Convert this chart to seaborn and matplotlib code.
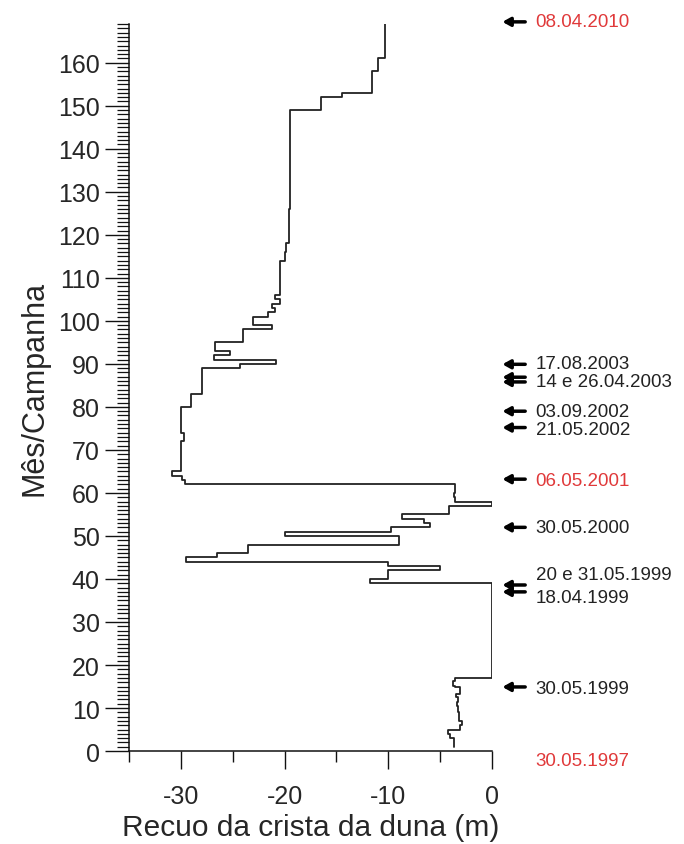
import seaborn as sns
import matplotlib.pyplot as plt
import pandas as pd

# inicio de cada patamar (mês/campanha) e recuo da crista (m)
mes = [1, 3, 4, 5, 6, 7, 9, 10.5, 11.3, 12.5, 13.2, 14.8, 15.2, 16.3, 17,
       39, 40, 42, 43, 44, 45, 46, 48, 50, 51, 52, 53, 54, 55, 57, 58, 59, 60,
       62, 63, 64, 65, 72, 74, 80, 83, 89, 90, 91, 92, 93, 95, 98, 99,
       101, 102, 103, 104, 105, 106, 114, 116, 118, 126, 149, 152, 153,
       158, 161, 169]
recuo = [-3.7, -4.05, -4.2, -3.1, -2.85, -3.15, -3.25, -3.4, -3.25, -3.45, -3.1, -3.55, -3.8, -3.55, 0.0,
         -11.8, -10.0, -5.0, -10.0, -29.5, -26.5, -23.5, -9.0, -20.0, -9.7, -6.0, -6.55, -8.7, -4.1, 0.0, -3.6, -3.7, -3.6,
         -29.6, -29.85, -30.9, -30.0, -29.7, -30.0, -29.0, -28.0, -24.3, -20.8, -26.85, -25.3, -26.75, -24.0, -21.2, -23.0,
         -21.6, -20.9, -21.2, -20.4, -20.9, -20.4, -20.0, -19.9, -19.6, -19.45, -16.5, -14.5, -11.6,
         -10.95, -10.35, -10.35]

# campanhas assinaladas com seta
datas = ['08.04.2010', '17.08.2003', '14 e 26.04.2003', '03.09.2002', '21.05.2002',
         '06.05.2001', '30.05.2000', '20 e 31.05.1999', '18.04.1999', '30.05.1999', '30.05.1997']
datas_y = [169.5, 90.0, 85.8, 79.0, 74.8, 62.9, 52.0, 41.1, 35.8, 14.6, -2.3]
datas_cor = ['#e0393a', '#222222', '#222222', '#222222', '#222222',
             '#e0393a', '#222222', '#222222', '#222222', '#222222', '#e0393a']
setas_y = [169.5, 89.9, 86.9, 85.8, 79.0, 75.2, 63.2, 52.0, 38.6, 37.0, 14.9]

df = pd.DataFrame({'mes': mes, 'recuo': recuo})

sns.set_style('ticks')
plt.rcParams['font.family'] = ['Liberation Sans', 'DejaVu Sans']
plt.rcParams['axes.unicode_minus'] = False

fig = plt.figure(figsize=(6.84, 8.45), dpi=100)
ax = fig.add_axes([0.1886, 0.110, 0.5307, 0.8604])

sns.lineplot(data=df, x='recuo', y='mes', orient='y', estimator=None,
             drawstyle='steps-pre', color='#222222', lw=1.3, ax=ax)

ax.set_xlim(-35, 0)
ax.set_ylim(0, 169)
ax.set_xticks([-30, -20, -10, 0])
ax.set_xticks([-35, -25, -15, -5], minor=True)
ax.set_yticks(range(0, 161, 10))
ax.set_yticks(range(0, 170), minor=True)
ax.tick_params(axis='y', which='major', length=17, width=1, labelsize=18, pad=4, color='#111111')
ax.tick_params(axis='y', which='minor', length=8.5, width=0.9, color='#111111')
ax.tick_params(axis='x', which='major', length=13, width=1, labelsize=18, pad=11, color='#111111')
ax.tick_params(axis='x', which='minor', length=8, width=1, color='#111111')
sns.despine(ax=ax)
for s in ['left', 'bottom']:
    ax.spines[s].set_linewidth(1.1)
    ax.spines[s].set_color('#111111')

ax.set_xlabel('Recuo da crista da duna (m)', fontsize=21.5, labelpad=3)
ax.set_ylabel('Mês/Campanha', fontsize=22, labelpad=6)

for y in setas_y:
    ax.annotate('', xy=(1.0, y), xytext=(3.2, y), annotation_clip=False,
                arrowprops=dict(arrowstyle='-|>,head_length=0.45,head_width=0.25',
                                lw=2.5, color='black', shrinkA=0, shrinkB=0))
for txt, y, c in zip(datas, datas_y, datas_cor):
    ax.text(4.2, y, txt, color=c, fontsize=13.5, va='center', ha='left', clip_on=False)

fig.savefig('out.png', dpi=100)
